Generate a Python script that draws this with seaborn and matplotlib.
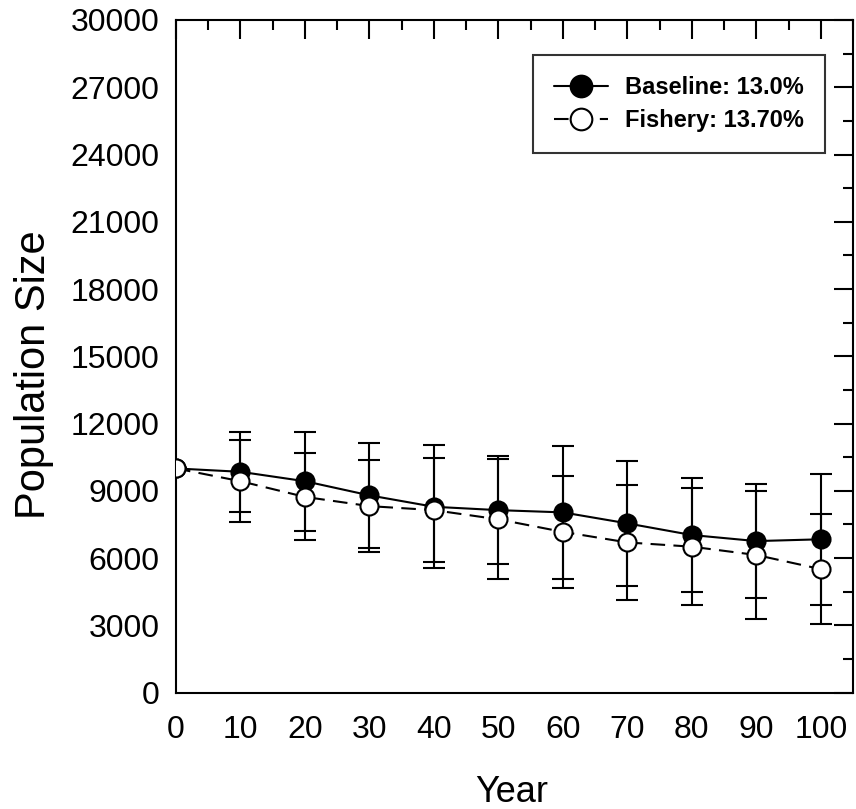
import numpy as np
import pandas as pd
import seaborn as sns
import matplotlib
matplotlib.use('Agg')
import matplotlib.pyplot as plt
from matplotlib.ticker import MultipleLocator

# Values (mean +/- SD)
years = [0, 10, 20, 30, 40, 50, 60, 70, 80, 90, 100]
baseline_mean = [10000, 9850, 9430, 8800, 8290, 8140, 8040, 7550, 7030, 6760, 6840]
baseline_sd = [0, 1790, 2210, 2330, 2740, 2400, 2950, 2800, 2550, 2550, 2920]
fishery_mean = [10000, 9430, 8730, 8320, 8140, 7730, 7170, 6700, 6510, 6140, 5510]
fishery_sd = [0, 1830, 1940, 2060, 2310, 2670, 2500, 2560, 2620, 2840, 2450]

baseline_label = 'Baseline: 13.0%'
fishery_label = 'Fishery: 13.70%'

sns.set_theme(style='white')
plt.rcParams['font.family'] = ['Liberation Sans', 'DejaVu Sans']
plt.rcParams['text.color'] = 'black'
plt.rcParams['axes.labelcolor'] = 'black'

fig = plt.figure(figsize=(8.56, 8.09), dpi=100)
ax = fig.add_axes([0.2056, 0.1438, 0.7909, 0.8315])

df_base = pd.DataFrame({'year': years, 'pop': baseline_mean})
df_fish = pd.DataFrame({'year': years, 'pop': fishery_mean})

# error bars underneath the markers
ax.errorbar(years, baseline_mean, yerr=baseline_sd, fmt='none', ecolor='black',
            elinewidth=1.5, capsize=8, capthick=1.5, zorder=2)
ax.errorbar(years, fishery_mean, yerr=fishery_sd, fmt='none', ecolor='black',
            elinewidth=1.5, capsize=8, capthick=1.5, zorder=2)

sns.lineplot(data=df_base, x='year', y='pop', ax=ax, color='black', linewidth=1.5,
             marker='o', markersize=13, markerfacecolor='black', markeredgecolor='black',
             markeredgewidth=1.5, errorbar=None, label=baseline_label, zorder=3)
sns.lineplot(data=df_fish, x='year', y='pop', ax=ax, color='black', linewidth=1.5,
             linestyle=(0, (7, 4)), marker='o', markersize=13, markerfacecolor='white',
             markeredgecolor='black', markeredgewidth=1.5, errorbar=None,
             label=fishery_label, zorder=4)

ax.set_xlim(0, 105)
ax.set_ylim(0, 30000)
ax.xaxis.set_major_locator(MultipleLocator(10))
ax.xaxis.set_minor_locator(MultipleLocator(5))
ax.yaxis.set_major_locator(MultipleLocator(3000))
ax.yaxis.set_minor_locator(MultipleLocator(1500))
ax.tick_params(which='both', direction='in', top=True, right=True, width=1.5,
               colors='black', labelsize=23)
ax.tick_params(which='major', length=14)
ax.tick_params(which='minor', length=7)
ax.tick_params(axis='x', pad=16)
ax.tick_params(axis='y', pad=12)
for s in ax.spines.values():
    s.set_linewidth(1.5)
    s.set_color('black')

ax.set_xlabel('Year', fontsize=26)
ax.set_ylabel('Population Size', fontsize=30)
ax.xaxis.set_label_coords(0.496, -0.122)
ax.yaxis.set_label_coords(-0.18, 0.472)

leg = ax.legend(loc='upper right', bbox_to_anchor=(0.9586, 0.948), frameon=True,
                fancybox=False, edgecolor='black', prop={'weight': 'bold', 'size': 17},
                handlelength=2.3, borderpad=0.9, labelspacing=0.42, handletextpad=0.7,
                markerscale=1.2, borderaxespad=0)
leg.get_frame().set_linewidth(1.5)
for t in leg.get_texts():
    t.set_color('black')

fig.savefig('out.png', dpi=100, facecolor='white')
